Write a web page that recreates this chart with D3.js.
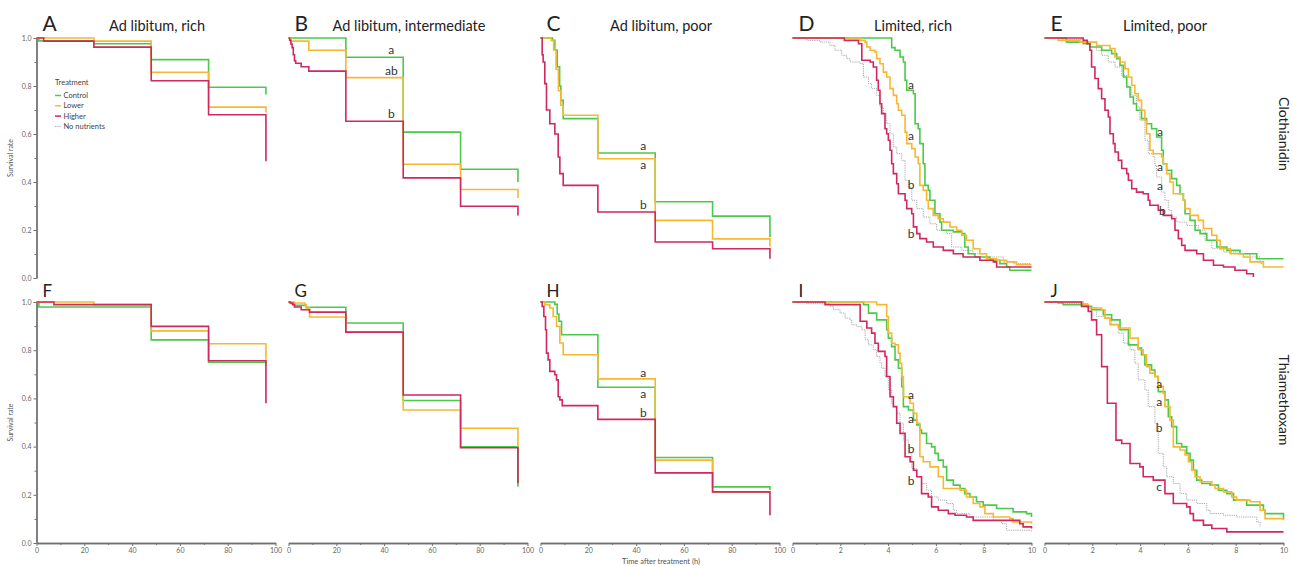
<!DOCTYPE html>
<html><head><meta charset="utf-8">
<script src="https://cdn.jsdelivr.net/npm/d3@7"></script>
<style>body{margin:0;background:#fff}svg{display:block}</style>
</head><body>
<svg id="chart" width="1293" height="566"></svg>
<script>
// ---------------- DATA ----------------
const panelLetters = ["A","B","C","D","E","F","G","H","I","J"];
const colTitles = ["Ad libitum, rich","Ad libitum, intermediate","Ad libitum, poor","Limited, rich","Limited, poor"];
const rowLabels = ["Clothianidin","Thiamethoxam"];
const seriesNames = ["Control","Lower","Higher","No nutrients"];
const legendTitle = "Treatment";
const yLabel = "Survival rate";
const xLabel = "Time after treatment (h)";
const yTicks = [0,0.2,0.4,0.6,0.8,1.0];
const yMinorTicks = [0.1,0.3,0.5,0.7,0.9];
const adlibTicks = [0,20,40,60,80,100];
const adlibMinorTicks = [10,30,50,70,90];
const limitedTicks = [0,2,4,6,8,10];
const limitedMinorTicks = [1,3,5,7,9];

// [time, survival from that time on]
const A_control = [[0,1],[1,0.988],[24,0.976],[48,0.91],[72,0.795],[96,0.765]];
const A_lower   = [[0,1],[24,0.987],[48,0.857],[72,0.712],[96,0.69]];
const A_higher  = [[0,1],[3,0.987],[24,0.962],[48,0.822],[72,0.68],[96,0.486]];

const B_control = [[0,1],[24,0.92],[48,0.608],[72,0.453],[96,0.40]];
const B_lower   = [[0,1],[1,0.987],[8.5,0.949],[24,0.835],[48,0.474],[72,0.369],[96,0.333]];
const B_higher  = [[0,1],[0.5,0.99],[1,0.975],[1.5,0.96],[2,0.93],[2.5,0.905],[3,0.895],[5.3,0.88],[8.5,0.862],[24,0.653],[48,0.417],[72,0.299],[96,0.26]];
const B_letters = [[43,0.95,"a"],[43,0.862,"ab"],[43,0.685,"b"]];

const C_control = [[0,1],[5,0.99],[6,0.95],[7,0.88],[8,0.8],[8.5,0.74],[9.5,0.664],[24,0.521],[48,0.318],[72,0.258],[96,0.17]];
const C_lower   = [[0,1],[4.5,0.99],[5.5,0.95],[6.5,0.87],[7.5,0.78],[8.5,0.72],[9.5,0.678],[24,0.497],[48,0.24],[72,0.163],[96,0.13]];
const C_higher  = [[0,1],[0.7,0.93],[1.1,0.9],[1.8,0.81],[2.5,0.70],[3.9,0.643],[6,0.60],[7.4,0.504],[8.1,0.435],[9.5,0.386],[24,0.275],[48,0.15],[72,0.122],[96,0.08]];
const C_letters = [[43,0.549,"a"],[43,0.472,"a"],[43,0.307,"b"]];

const D_control = [[0,1],[4.15,0.96],[4.29,0.949],[4.5,0.921],[4.64,0.9],[4.71,0.824],[4.78,0.782],[5.06,0.768],[5.13,0.643],[5.26,0.622],[5.33,0.56],[5.47,0.476],[5.54,0.386],[5.68,0.365],[5.75,0.324],[5.96,0.268],[6.17,0.233],[6.24,0.199],[6.73,0.192],[7.08,0.185],[7.21,0.129],[7.35,0.101],[7.63,0.0875],[8.26,0.074],[8.68,0.06],[8.96,0.046],[9.09,0.032],[10,0.032]];
const D_lower   = [[0,1],[2.83,0.99],[3.04,0.983],[3.11,0.9625],[3.25,0.949],[3.45,0.942],[3.52,0.914],[3.66,0.893],[3.8,0.858],[3.94,0.8375],[4.08,0.789],[4.22,0.761],[4.36,0.726],[4.43,0.699],[4.57,0.678],[4.71,0.608],[4.78,0.56],[4.99,0.539],[5.13,0.504],[5.26,0.476],[5.33,0.386],[5.47,0.365],[5.61,0.324],[5.68,0.289],[5.89,0.261],[6.1,0.247],[6.31,0.233],[6.59,0.2125],[6.87,0.199],[7.08,0.178],[7.28,0.157],[7.56,0.122],[7.84,0.101],[8.12,0.08],[8.54,0.074],[8.96,0.067],[9.37,0.056],[10,0.056]];
const D_higher  = [[0,1],[2.17,0.99],[2.76,0.976],[2.9,0.907],[3.25,0.9],[3.38,0.879],[3.52,0.824],[3.59,0.782],[3.66,0.726],[3.73,0.685],[3.87,0.622],[3.94,0.601],[4.01,0.574],[4.08,0.532],[4.15,0.476],[4.22,0.435],[4.36,0.393],[4.43,0.351],[4.71,0.324],[4.78,0.289],[4.99,0.268],[5.06,0.213],[5.2,0.185],[5.33,0.164],[5.61,0.15],[5.89,0.129],[6.31,0.115],[6.73,0.101],[7.14,0.0875],[7.84,0.074],[8.4,0.067],[8.54,0.046],[10,0.046]];
const D_none    = [[0,1],[0.6,0.99],[1.16,0.983],[1.57,0.969],[1.78,0.949],[2.06,0.928],[2.27,0.914],[2.41,0.9],[2.83,0.893],[2.97,0.8375],[3.18,0.81],[3.31,0.789],[3.52,0.761],[3.66,0.7125],[3.8,0.685],[3.94,0.643],[4.08,0.601],[4.22,0.546],[4.36,0.518],[4.57,0.49],[4.71,0.407],[4.85,0.379],[4.99,0.324],[5.2,0.289],[5.47,0.254],[5.75,0.226],[6.03,0.199],[6.45,0.185],[6.66,0.129],[7.08,0.115],[7.56,0.101],[8.12,0.0875],[8.82,0.067],[9.23,0.06],[9.93,0.053]];
const D_letters = [[4.96,0.806,"a"],[4.96,0.594,"a"],[4.96,0.39,"b"],[4.96,0.185,"b"]];

const E_control = [[0,1],[0.92,0.983],[1.62,0.976],[1.9,0.9625],[2.39,0.949],[2.81,0.935],[3.02,0.914],[3.16,0.886],[3.3,0.8375],[3.44,0.796],[3.58,0.754],[3.72,0.726],[3.85,0.699],[4.06,0.664],[4.27,0.643],[4.48,0.622],[4.69,0.5875],[4.9,0.532],[4.97,0.476],[5.11,0.449],[5.32,0.414],[5.53,0.386],[5.67,0.351],[5.81,0.324],[5.88,0.268],[6.09,0.24],[6.3,0.199],[6.51,0.185],[6.79,0.157],[7.21,0.129],[7.63,0.115],[8.18,0.101],[8.88,0.08],[10,0.08]];
const E_lower   = [[0,1],[0.57,0.99],[1.48,0.983],[2.18,0.969],[2.74,0.956],[2.95,0.921],[3.16,0.9],[3.37,0.872],[3.51,0.8375],[3.65,0.803],[3.78,0.768],[3.92,0.74],[4.06,0.699],[4.2,0.657],[4.27,0.601],[4.41,0.532],[4.55,0.518],[4.9,0.504],[4.97,0.476],[5.11,0.435],[5.25,0.4],[5.39,0.351],[5.81,0.324],[5.88,0.289],[6.09,0.261],[6.44,0.24],[6.65,0.206],[7.0,0.178],[7.21,0.157],[7.35,0.122],[7.77,0.101],[8.32,0.0875],[8.6,0.067],[9.16,0.046],[10,0.046]];
const E_higher  = [[0,1],[1.62,0.99],[1.79,0.976],[1.9,0.949],[1.97,0.879],[2.11,0.831],[2.25,0.789],[2.39,0.747],[2.53,0.699],[2.67,0.671],[2.74,0.601],[2.88,0.56],[2.95,0.525],[3.09,0.49],[3.23,0.456],[3.44,0.435],[3.51,0.407],[3.65,0.372],[3.85,0.358],[4.13,0.351],[4.34,0.324],[4.41,0.303],[4.76,0.282],[4.97,0.261],[5.32,0.247],[5.46,0.199],[5.6,0.164],[5.74,0.136],[5.88,0.115],[6.37,0.101],[6.65,0.074],[7.07,0.053],[7.49,0.046],[7.97,0.032],[8.46,0.018],[8.74,0.004]];
const E_none    = [[0,1],[0.78,0.993],[1.62,0.983],[2.18,0.949],[2.39,0.928],[2.67,0.9],[2.95,0.879],[3.23,0.844],[3.44,0.796],[3.65,0.761],[3.85,0.7125],[3.99,0.657],[4.2,0.574],[4.34,0.518],[4.55,0.504],[4.62,0.469],[4.69,0.421],[4.9,0.358],[5.04,0.324],[5.18,0.282],[5.32,0.254],[5.53,0.233],[5.95,0.219],[6.44,0.199],[6.72,0.157],[7.0,0.122],[7.49,0.108],[8.04,0.101],[8.6,0.0875],[9.02,0.06],[9.16,0.046]];
const E_letters = [[4.83,0.608,"a"],[4.83,0.465,"a"],[4.83,0.386,"a"],[4.93,0.282,"b"]];

const F_control = [[0,1],[1,0.979],[48,0.843],[72,0.75],[96,0.74]];
const F_lower   = [[0,1],[24,0.989],[48,0.88],[72,0.827],[96,0.76]];
const F_higher  = [[0,1],[7.3,0.989],[48,0.899],[72,0.756],[96,0.58]];

const G_control = [[0,1],[1.1,0.993],[2.5,0.986],[7.4,0.978],[24,0.913],[48,0.591],[72,0.399],[96,0.233]];
const G_lower   = [[0,1],[2.5,0.996],[6.8,0.989],[7.4,0.975],[8.8,0.938],[24,0.875],[48,0.552],[72,0.476],[96,0.40]];
const G_higher  = [[0,1],[0.7,0.996],[1.8,0.989],[2.5,0.979],[5.3,0.968],[8.8,0.958],[24,0.875],[48,0.614],[72,0.395],[96,0.247]];

const H_control = [[0,1],[6,0.99],[7,0.95],[7.7,0.92],[8.8,0.864],[24,0.646],[48,0.355],[72,0.233],[96,0.22]];
const H_lower   = [[0,1],[1.8,0.989],[3.9,0.975],[5.3,0.94],[6.7,0.899],[8.1,0.83],[9.5,0.781],[24,0.681],[48,0.344],[72,0.212],[96,0.21]];
const H_higher  = [[0,1],[0.7,0.982],[1.4,0.94],[2.1,0.885],[2.5,0.788],[3.2,0.76],[3.9,0.712],[6,0.698],[6.7,0.677],[7.4,0.607],[8.1,0.594],[9.1,0.57],[24,0.513],[48,0.291],[72,0.212],[96,0.115]];
const H_letters = [[43,0.705,"a"],[43,0.619,"a"],[43,0.541,"b"]];

const I_control = [[0,1],[2.97,0.989],[3.18,0.954],[3.52,0.926],[3.94,0.885],[4.01,0.85],[4.15,0.815],[4.29,0.76],[4.43,0.725],[4.57,0.649],[4.64,0.566],[4.85,0.552],[5.06,0.51],[5.2,0.49],[5.33,0.469],[5.4,0.455],[5.61,0.413],[5.82,0.399],[5.96,0.372],[6.1,0.344],[6.31,0.316],[6.45,0.261],[6.73,0.24],[7.01,0.226],[7.21,0.205],[7.42,0.191],[7.7,0.171],[7.98,0.157],[8.54,0.143],[9.23,0.129],[9.79,0.122],[10,0.108]];
const I_lower   = [[0,1],[3.52,0.989],[3.94,0.94],[4.01,0.871],[4.15,0.829],[4.29,0.822],[4.43,0.788],[4.5,0.746],[4.57,0.691],[4.64,0.607],[4.92,0.58],[5.06,0.538],[5.2,0.497],[5.33,0.358],[5.47,0.337],[5.75,0.316],[6.1,0.275],[6.31,0.226],[7.01,0.219],[7.28,0.191],[7.56,0.164],[7.84,0.15],[8.05,0.122],[8.4,0.108],[9.09,0.101],[9.23,0.087],[10,0.08]];
const I_higher  = [[0,1],[1.36,0.989],[2.83,0.92],[3.11,0.892],[3.31,0.871],[3.45,0.829],[3.59,0.795],[3.87,0.774],[3.94,0.691],[4.08,0.607],[4.22,0.566],[4.36,0.497],[4.5,0.455],[4.71,0.358],[4.92,0.337],[5.06,0.302],[5.2,0.275],[5.4,0.205],[5.68,0.191],[5.82,0.15],[6.1,0.136],[6.52,0.122],[6.8,0.115],[7.28,0.108],[7.56,0.094],[9.51,0.08],[9.65,0.067],[10,0.06]];
const I_none    = [[0,1],[0.6,0.993],[1.57,0.982],[1.71,0.968],[1.99,0.954],[2.2,0.933],[2.41,0.926],[2.48,0.906],[2.69,0.899],[2.9,0.885],[3.04,0.843],[3.18,0.822],[3.38,0.802],[3.52,0.774],[3.66,0.746],[3.73,0.725],[3.87,0.691],[4.01,0.635],[4.15,0.58],[4.22,0.566],[4.36,0.538],[4.5,0.497],[4.64,0.427],[4.85,0.372],[4.99,0.309],[5.2,0.275],[5.4,0.247],[5.61,0.219],[5.82,0.191],[6.1,0.178],[6.45,0.164],[6.73,0.136],[6.87,0.122],[7.42,0.108],[8.4,0.094],[8.75,0.08],[8.96,0.053],[10,0.046]];
const I_letters = [[4.96,0.617,"a"],[4.96,0.517,"a"],[4.96,0.392,"b"],[4.96,0.258,"b"]];

const J_control = [[0,1],[0.57,0.996],[0.78,0.989],[1.76,0.982],[1.97,0.968],[2.46,0.947],[2.81,0.926],[3.16,0.885],[3.51,0.822],[3.92,0.809],[4.06,0.781],[4.2,0.739],[4.48,0.718],[4.62,0.691],[4.76,0.628],[5.04,0.594],[5.18,0.524],[5.32,0.483],[5.53,0.413],[5.74,0.399],[5.95,0.372],[6.09,0.344],[6.23,0.302],[6.37,0.261],[6.58,0.247],[6.93,0.24],[7.28,0.219],[7.63,0.205],[7.91,0.178],[8.46,0.157],[9.16,0.136],[9.23,0.122],[10,0.101]];
const J_lower   = [[0,1],[1.62,0.989],[1.83,0.975],[2.39,0.968],[2.53,0.933],[2.74,0.906],[3.09,0.892],[3.58,0.85],[3.92,0.802],[4.13,0.781],[4.27,0.732],[4.41,0.705],[4.62,0.691],[4.76,0.649],[4.97,0.621],[5.04,0.566],[5.25,0.51],[5.39,0.399],[5.67,0.386],[5.88,0.365],[6.02,0.337],[6.16,0.302],[6.3,0.275],[6.51,0.254],[7.0,0.24],[7.14,0.226],[7.49,0.212],[7.84,0.191],[8.04,0.178],[8.6,0.171],[9.02,0.136],[9.23,0.101],[10,0.094]];
const J_higher  = [[0,1],[1.55,0.982],[1.83,0.961],[1.97,0.926],[2.18,0.864],[2.39,0.732],[2.63,0.58],[2.99,0.427],[3.23,0.413],[3.58,0.33],[3.99,0.316],[4.13,0.275],[4.55,0.261],[5.04,0.205],[5.39,0.164],[5.95,0.15],[6.09,0.122],[6.23,0.094],[6.65,0.074],[7.0,0.06],[7.63,0.046],[10,0.046]];
const J_none    = [[0,1],[0.78,0.993],[1.83,0.975],[2.18,0.94],[2.53,0.933],[2.81,0.906],[3.09,0.871],[3.3,0.829],[3.58,0.802],[3.78,0.746],[3.92,0.677],[4.2,0.635],[4.34,0.566],[4.62,0.497],[4.76,0.372],[4.97,0.316],[5.11,0.275],[5.39,0.247],[5.67,0.205],[5.95,0.178],[6.37,0.164],[6.79,0.136],[6.93,0.122],[7.49,0.115],[8.04,0.108],[8.88,0.087],[9.02,0.067]];
const J_letters = [[4.8,0.661,"a"],[4.8,0.584,"a"],[4.8,0.476,"b"],[4.8,0.233,"c"]];

// ---------------- CHART ----------------
const svg = d3.select("#chart");
const FONT = "Lato, 'Open Sans', sans-serif";
const colors = {Control:"#4cc94a", Lower:"#f6b833", Higher:"#d0285f", "No nutrients":"#a8a8a8"};
const axisColor = "#707070";

const panels = [
  {s:[A_control,A_lower,A_higher,null], L:null},
  {s:[B_control,B_lower,B_higher,null], L:B_letters},
  {s:[C_control,C_lower,C_higher,null], L:C_letters},
  {s:[D_control,D_lower,D_higher,D_none], L:D_letters},
  {s:[E_control,E_lower,E_higher,E_none], L:E_letters},
  {s:[F_control,F_lower,F_higher,null], L:null},
  {s:[G_control,G_lower,G_higher,null], L:null},
  {s:[H_control,H_lower,H_higher,null], L:H_letters},
  {s:[I_control,I_lower,I_higher,I_none], L:I_letters},
  {s:[J_control,J_lower,J_higher,J_none], L:J_letters}
];

const colX0 = c => 36.5 + c * 252;
const panelW = 239;
const rows = [{top:38, bottom:278}, {top:302, bottom:543}];

function styleAxis(g){
  g.selectAll("path.domain").attr("stroke", axisColor).attr("stroke-width", 1.3);
  g.selectAll(".tick line").attr("stroke", axisColor).attr("stroke-width", 1);
  g.selectAll(".tick text").attr("fill", "#666").style("font-family", FONT).style("font-size", "7px");
}

panels.forEach((p, i) => {
  const row = Math.floor(i / 5), col = i % 5;
  const limited = col >= 3;
  const x0 = colX0(col);
  const x = d3.scaleLinear().domain(limited ? [0,10] : [0,100]).range([x0, x0 + panelW]);
  const y = d3.scaleLinear().domain([0,1]).range([rows[row].bottom, rows[row].top]);
  const g = svg.append("g");

  if (col === 0) {
    const ya = g.append("g").attr("transform", `translate(${x0},0)`)
      .call(d3.axisLeft(y).tickValues(yTicks).tickFormat(d3.format(".1f")).tickSize(3).tickSizeOuter(0).tickPadding(2));
    styleAxis(ya);
    const ym = g.append("g").attr("transform", `translate(${x0},0)`)
      .call(d3.axisLeft(y).tickValues(yMinorTicks).tickFormat("").tickSize(2).tickSizeOuter(0));
    styleAxis(ym);
    g.append("text").attr("transform", `translate(13,${(rows[row].top + rows[row].bottom)/2}) rotate(-90)`)
      .attr("text-anchor","middle").attr("fill","#555").style("font-family",FONT).style("font-size","7px").text(yLabel);
  }
  if (row === 1) {
    const xa = g.append("g").attr("transform", `translate(0,${rows[row].bottom})`)
      .call(d3.axisBottom(x).tickValues(limited ? limitedTicks : adlibTicks).tickSize(3).tickSizeOuter(0).tickPadding(2));
    styleAxis(xa);
    const xm = g.append("g").attr("transform", `translate(0,${rows[row].bottom})`)
      .call(d3.axisBottom(x).tickValues(limited ? limitedMinorTicks : adlibMinorTicks).tickFormat("").tickSize(2).tickSizeOuter(0));
    styleAxis(xm);
  }

  const line = d3.line().x(d => x(d[0])).y(d => y(d[1])).curve(d3.curveStepAfter);
  const order = [3,0,1,2];
  order.forEach(k => {
    const data = p.s[k];
    if (!data) return;
    const name = seriesNames[k];
    g.append("path").datum(data).attr("d", line).attr("fill","none")
      .attr("stroke", colors[name])
      .attr("stroke-width", k === 3 ? 1 : 1.6)
      .attr("stroke-dasharray", k === 3 ? "1.2,1" : null);
  });

  if (p.L) {
    p.L.forEach(d => {
      g.append("text").attr("x", x(d[0])).attr("y", y(d[1])).attr("dy","0.35em")
        .attr("text-anchor","middle").attr("fill","#333")
        .style("font-family",FONT).style("font-size","12px").text(d[2]);
    });
  }

  g.append("text").attr("x", x0 + 6).attr("y", row === 0 ? 31 : 297)
    .attr("fill","#222").style("font-family",FONT).style("font-size", row === 0 ? "21px" : "17px")
    .text(panelLetters[i]);

  if (row === 0) {
    g.append("text").attr("x", x0 + panelW/2 + 1).attr("y", 31).attr("text-anchor","middle")
      .attr("fill","#222").style("font-family",FONT).style("font-size","14.5px").text(colTitles[col]);
  }

  if (i === 0) {
    const lg = g.append("g").attr("transform","translate(55,0)");
    lg.append("text").attr("x",0).attr("y",85).attr("fill","#444")
      .style("font-family",FONT).style("font-size","7.5px").text(legendTitle);
    seriesNames.forEach((n, j) => {
      const yy = 95.5 + j * 10.3;
      lg.append("line").attr("x1",0).attr("x2",6).attr("y1",yy).attr("y2",yy)
        .attr("stroke", colors[n]).attr("stroke-width", j === 3 ? 1 : 1.5)
        .attr("stroke-dasharray", j === 3 ? "1.2,1" : null);
      lg.append("text").attr("x",8.5).attr("y",yy).attr("dy","0.35em").attr("fill","#444")
        .style("font-family",FONT).style("font-size","7.5px").text(n);
    });
  }
});

[[rowLabels[0],134],[rowLabels[1],400]].forEach(([t, cy]) => {
  svg.append("text").attr("transform", `translate(1284,${cy}) rotate(90)`)
    .attr("text-anchor","middle").attr("dy","0.35em").attr("fill","#222")
    .style("font-family",FONT).style("font-size","14px").text(t);
});

svg.append("text").attr("x", 661).attr("y", 564).attr("text-anchor","middle").attr("fill","#555")
  .style("font-family",FONT).style("font-size","7.5px").text(xLabel);
</script>
</body></html>
